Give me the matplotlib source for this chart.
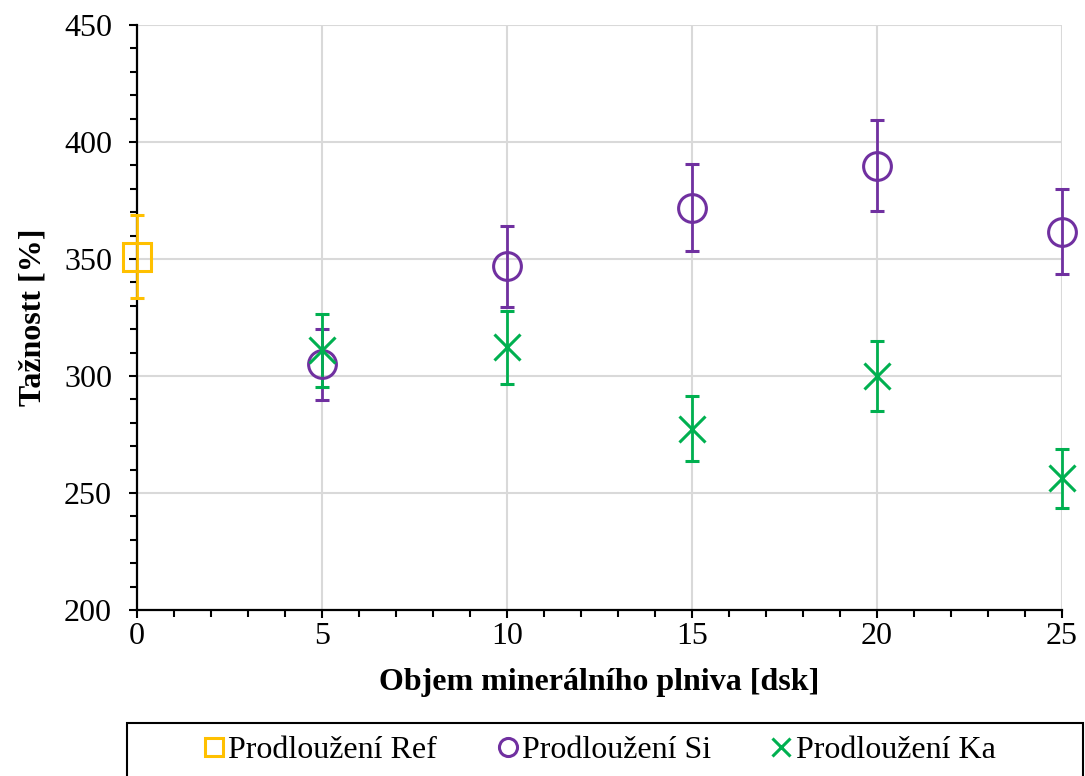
import matplotlib
matplotlib.use("Agg")
import matplotlib.pyplot as plt
from matplotlib.lines import Line2D
from matplotlib.patches import Rectangle
from matplotlib.ticker import MultipleLocator

plt.rcParams['font.family'] = ['Liberation Serif', 'DejaVu Serif']

# Reference sample (no filler)
ref_x = [0]
ref_y = [351]
ref_err = [17.6]

# Silica filler
si_x = [5, 10, 15, 20, 25]
si_y = [305, 346.8, 372, 389.8, 361.7]
si_err = [15.2, 17.4, 18.4, 19.4, 18.2]

# Kaolin filler
ka_x = [5, 10, 15, 20, 25]
ka_y = [311, 312.2, 277.4, 300, 256.2]
ka_err = [15.6, 15.6, 13.9, 15.1, 12.8]

x_ticks = [0, 5, 10, 15, 20, 25]
y_ticks = [200, 250, 300, 350, 400, 450]

labels = ["Prodloužení Ref", "Prodloužení Si", "Prodloužení Ka"]
c_ref, c_si, c_ka = "#FFC000", "#7030A0", "#00B050"

W, H = 1085, 776
FS = 23
fig = plt.figure(figsize=(W / 100, H / 100), dpi=100)
ax = fig.add_axes([137 / W, 1 - 610 / H, (1062 - 137) / W, (610 - 25) / H])

err_kw = dict(linestyle="none", elinewidth=2.0, capsize=4.8, capthick=2.0,
              markersize=20, markeredgewidth=2.2, zorder=3, clip_on=False)

ax.errorbar(ref_x, ref_y, yerr=ref_err, marker="s", color=c_ref,
            markerfacecolor="none", markeredgecolor=c_ref, **err_kw)
ax.errorbar(si_x, si_y, yerr=si_err, marker="o", color=c_si,
            markerfacecolor="none", markeredgecolor=c_si, **err_kw)
ax.errorbar(ka_x, ka_y, yerr=ka_err, marker="x", color=c_ka,
            markeredgecolor=c_ka, **{**err_kw, "markersize": 19})

ax.set_xlim(0, 25)
ax.set_ylim(200, 450)
ax.set_xticks(x_ticks)
ax.set_yticks(y_ticks)
ax.xaxis.set_minor_locator(MultipleLocator(1))
ax.yaxis.set_minor_locator(MultipleLocator(10))

ax.grid(True, which="major", color="#D9D9D9", linewidth=1.5, zorder=0)
ax.set_axisbelow(True)

for side in ("top", "right"):
    ax.spines[side].set_visible(False)
for side in ("left", "bottom"):
    ax.spines[side].set_linewidth(1.6)
    ax.spines[side].set_color("black")
    ax.spines[side].set_zorder(2)

ax.tick_params(axis="both", which="major", direction="out", length=6,
               width=1.5, labelsize=FS, color="black")
ax.tick_params(axis="both", which="minor", direction="out", length=5,
               width=1.5, color="black")
ax.tick_params(axis="y", pad=12)
ax.tick_params(axis="x", pad=3)

ax.set_xlabel("Objem minerálního plniva [dsk]", fontsize=FS,
              fontweight="bold", labelpad=12)
ax.set_ylabel("Tažnostt [%]", fontsize=FS, fontweight="bold", labelpad=12)

# Legend box along the bottom edge
fig.patches.append(Rectangle((127 / W, -0.01), (1083 - 127) / W, 0.01 + (776 - 723) / H,
                             transform=fig.transFigure, facecolor="white",
                             edgecolor="black", linewidth=1.5))

handles = [
    Line2D([], [], linestyle="none", marker="s", markersize=13,
           markerfacecolor="none", markeredgecolor=c_ref, markeredgewidth=2.2),
    Line2D([], [], linestyle="none", marker="o", markersize=13,
           markerfacecolor="none", markeredgecolor=c_si, markeredgewidth=2.2),
    Line2D([], [], linestyle="none", marker="x", markersize=13,
           markeredgecolor=c_ka, markeredgewidth=2.2),
]
fig.legend(handles, labels, loc="center", bbox_to_anchor=(600 / W, 1 - 750 / H),
           ncol=3, frameon=False, fontsize=FS, handlelength=0.6,
           handletextpad=0.15, columnspacing=1.9, borderpad=0)

fig.savefig("out.png", dpi=100)
